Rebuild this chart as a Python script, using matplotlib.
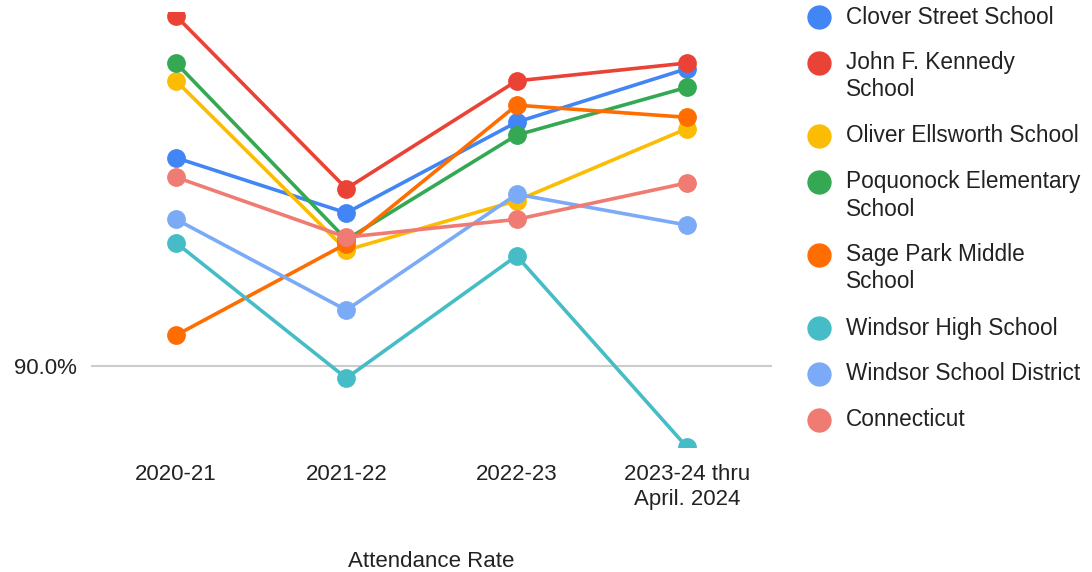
import matplotlib
matplotlib.use('Agg')
import matplotlib.pyplot as plt
from matplotlib.lines import Line2D

plt.rcParams['font.family'] = ['Liberation Sans', 'DejaVu Sans']

years = ['2020-21', '2021-22', '2022-23', '2023-24 thru\nApril. 2024']

names = ['Clover Street School', 'John F. Kennedy\nSchool', 'Oliver Ellsworth School',
         'Poquonock Elementary\nSchool', 'Sage Park Middle\nSchool', 'Windsor High School',
         'Windsor School District', 'Connecticut']
colors = ['#4285F4', '#EA4335', '#FBBC04', '#34A853', '#FF6D01', '#46BDC6', '#7BAAF7', '#F07B72']

# attendance rate, percent
clover = [92.57, 91.89, 93.01, 93.67]
jfk = [94.32, 92.19, 93.52, 93.74]
oliver = [93.52, 91.43, 92.04, 92.93]
poquonock = [93.74, 91.56, 92.85, 93.44]
sage = [90.38, 91.51, 93.22, 93.07]
windsor_high = [91.52, 89.85, 91.36, 89.0]
district = [91.81, 90.69, 92.12, 91.74]
connecticut = [92.33, 91.59, 91.81, 92.26]

series = [clover, jfk, oliver, poquonock, sage, windsor_high, district, connecticut]

W, H = 1092, 572
fig = plt.figure(figsize=(W / 100, H / 100), dpi=100)
ax = fig.add_axes([91 / W, 1 - 447 / H, 681 / W, 435 / H])

x = list(range(len(years)))
for vals, name, c in zip(series, names, colors):
    ax.plot(x, vals, color=c, lw=2.6, marker='o', markersize=12.5, label=name,
            solid_capstyle='round')

ax.set_xlim(-0.5, len(years) - 0.5)
ax.set_ylim(89.0, 94.37)
ax.set_xticks(x)
ax.set_xticklabels(years, fontsize=16, color='#222222', linespacing=1.25)
ax.set_yticks([90])
ax.set_yticklabels(['90.0%'], fontsize=16, color='#222222')
ax.tick_params(axis='both', length=0)
ax.tick_params(axis='x', pad=12)
ax.tick_params(axis='y', pad=10)
ax.grid(axis='y', color='#cccccc', lw=1.5)
ax.set_axisbelow(True)
for s in ax.spines.values():
    s.set_visible(False)
ax.set_xlabel('Attendance Rate', fontsize=16, color='#222222', labelpad=30)

# legend drawn by hand so the entry spacing matches the original
y = 17
for name, c in zip(names, colors):
    lines = name.split('\n')
    fig.add_artist(Line2D([819 / W], [1 - y / H], marker='o', markersize=16.5,
                          color=c, linestyle='none'))
    for k, ln in enumerate(lines):
        fig.text(846 / W, 1 - (y + 27 * k) / H, ln, fontsize=16.3, color='#222222',
                 va='center', ha='left')
    y += 46 + 27 * (len(lines) - 1)

fig.savefig('out.png', dpi=100)
